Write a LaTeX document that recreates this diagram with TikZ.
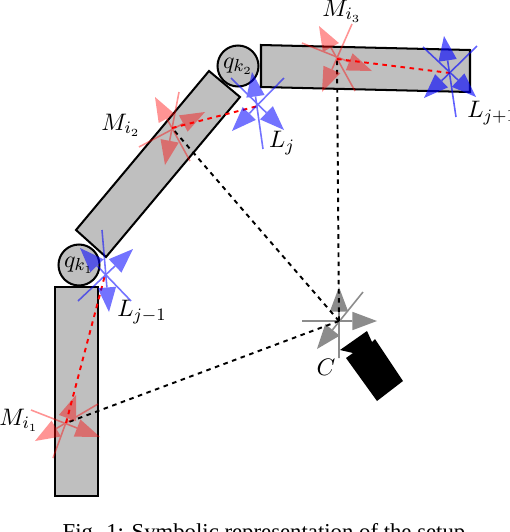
\documentclass[tikz,border=0pt]{standalone}
\usepackage{fontspec}
\newfontfamily\capfont{Liberation Serif}
\usetikzlibrary{arrows.meta}
\tikzset{
  link/.style={draw=black,fill=black!25,line width=1.15pt,line join=miter},
  joint/.style={circle,draw=black,fill=black!25,line width=1.15pt,inner sep=0pt,minimum size=0.82cm},
  axis/.style={line width=0.9pt,-{Triangle[length=14pt,width=10.5pt,line width=0pt]}},
  sight/.style={black,line width=1.1pt,dash pattern=on 2.6pt off 2.6pt},
  offset/.style={red,line width=1.1pt,dash pattern=on 2.6pt off 2.6pt},
  lab/.style={inner sep=0pt,scale=1.24,font=\fontsize{11}{13}\selectfont}
}
\begin{document}
\begin{tikzpicture}[x=0.02cm,y=-0.02cm]
\useasboundingbox (0,0) rectangle (510,532);
\clip (0,0) rectangle (510,532);
% frame origins
\coordinate (M1) at (66,423); \coordinate (M2) at (172,128); \coordinate (M3) at (337,59);
\coordinate (L0) at (105,275); \coordinate (L1) at (258,106); \coordinate (L2) at (450,73);
\coordinate (C) at (339,321);
% arm
\draw[link] (55,287) rectangle (98,496);
\draw[link] (209,71)--(240,97)--(106,257)--(76,230)--cycle;
\draw[link] (261,45)--(470,50)--(470,92)--(261,87)--cycle;
\node[joint] (qk1) at (79,265) {};
\node[joint] (qk2) at (238,66) {};
\node[lab] at (qk1) {$q_{k_1}$};
\node[lab] at (qk2) {$q_{k_2}$};
% lines of sight
\foreach \p in {M1,M2,M3}{\draw[sight] (C)--(\p);}
\draw[offset] (M1)--(L0);
\draw[offset] (M2)--(L1);
\draw[offset] (M3)--(L2);
% frames
\foreach \col/\op/\ax/\ay/\bx/\by/\cx/\cy/\dx/\dy/\ex/\ey/\fx/\fy in {
  red/.42/31/410/100/437/98/404/35/441/53/458/76/395,
  red/.42/139/147/205/112/190/161/155/97/179/92/165/165,
  red/.42/302/43/372/71/355/91/319/26/352/24/322/92,
  blue/.55/78/301/133/249/131/301/80/248/102/230/109/312,
  blue/.55/231/78/284/130/284/78/232/131/263/149/252/72,
  blue/.62/423/47/476/97/477/46/424/98/456/117/444/36,
  black/.45/302/321/377/321/363/292/317/349/339/358/339/287}{
  \begin{scope}[transparency group,opacity=\op]
  \draw[axis,\col] (\ax,\ay)--(\bx,\by);
  \draw[axis,\col] (\cx,\cy)--(\dx,\dy);
  \draw[axis,\col] (\ex,\ey)--(\fx,\fy);
  \end{scope}
}
% camera
\fill[black] (340,350)--(367,331)--(372,342)--(375,339)--(403,381)--(377,401)--(346,358)--(353,353)--cycle;
% labels
\node[lab] (mi1) at (19,420) {$M_{i_1}$};
\node[lab] (mi2) at (121,125) {$M_{i_2}$};
\node[lab] (mi3) at (342,11) {$M_{i_3}$};
\node[lab] (lj0) at (142,312) {$L_{j-1}$};
\node[lab] (lj1) at (282,143) {$L_j$};
\node[lab,anchor=west] (lj2) at (467,113) {$L_{j+1}$};
\node[lab] (cam) at (326,367) {$C$};
\node[inner sep=0pt,anchor=base,font=\fontsize{12.95}{15}\capfont] (cap) at (264,539) {Fig. 1: Symbolic representation of the setup};
\end{tikzpicture}
\end{document}
